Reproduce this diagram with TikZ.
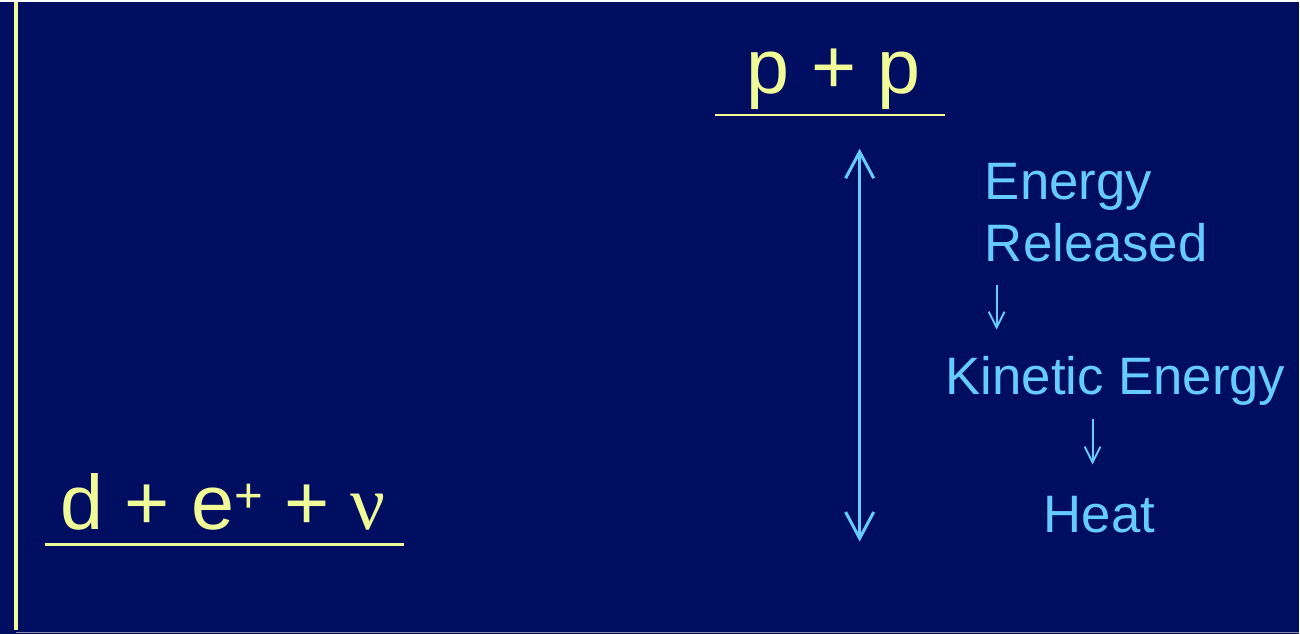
\documentclass[tikz,border=0pt]{standalone}
\usepackage{fontspec}
\setmainfont{Liberation Sans}
\newfontfamily\nufont{Liberation Serif}
\usetikzlibrary{arrows.meta}
\definecolor{BgNavy} {RGB}{0,14,98}
\definecolor{EqYel}  {RGB}{240,250,150}
\definecolor{EnCyan} {RGB}{102,204,255}
\definecolor{EdgeGry}{RGB}{140,140,160}
\newcommand{\supplus}{\raisebox{9.5pt}{\fontsize{28}{28}\selectfont +}}
\tikzset{
  nd_eq/.style={inner sep=0pt,anchor=base,text=EqYel,font=\fontsize{44}{50}\selectfont},
  nd_en/.style={inner sep=0pt,anchor=base,text=EnCyan,font=\fontsize{30}{35.2}\selectfont},
  lvl/.style={draw=EqYel,line width=1.2pt},
  arr_big/.style={{Straight Barb[length=15pt,width=16pt]}-{Straight Barb[length=15pt,width=16pt]},draw=EnCyan,line width=1.7pt},
  arr_sm/.style={-{Straight Barb[length=9pt,width=9pt]},draw=EnCyan,line width=1.1pt},
}

\begin{document}
\begin{tikzpicture}[x=0.02cm,y=-0.02cm]
\fill[BgNavy] (0,0) rectangle (1300,632);
\draw[EqYel,line width=2pt] (16,0) -- (16,628);
\draw[EdgeGry,line width=0.6pt] (16,631) -- (1300,631);
% levels
\node[nd_eq] (PP) at (834,92) {p + p};
\draw[lvl] (715,113) -- (945,113);
\node[nd_eq] (DN) at (223,528) {d + e\supplus{} + {\nufont ν}};
\draw[lvl] (45,543) -- (404,543);
% energy chain
\node[nd_en,anchor=base west,align=left] (ER) at (985,260) {Energy\\Released};
\node[nd_en] (KE) at (1116,393) {Kinetic Energy};
\node[nd_en] (HT) at (1100,531) {Heat};
\coordinate (UpLvl) at (860,147);
\coordinate (LoLvl) at (860,540);
\coordinate (ERbot) at (997,283);
\coordinate (KEtop) at (997,328);
\coordinate (KEbot) at (1093,417);
\coordinate (HTtop) at (1093,463);
% arrows
\draw[arr_big] (UpLvl) -- (LoLvl);
\draw[arr_sm] (ERbot) -- (KEtop);
\draw[arr_sm] (KEbot) -- (HTtop);
\end{tikzpicture}
\end{document}
